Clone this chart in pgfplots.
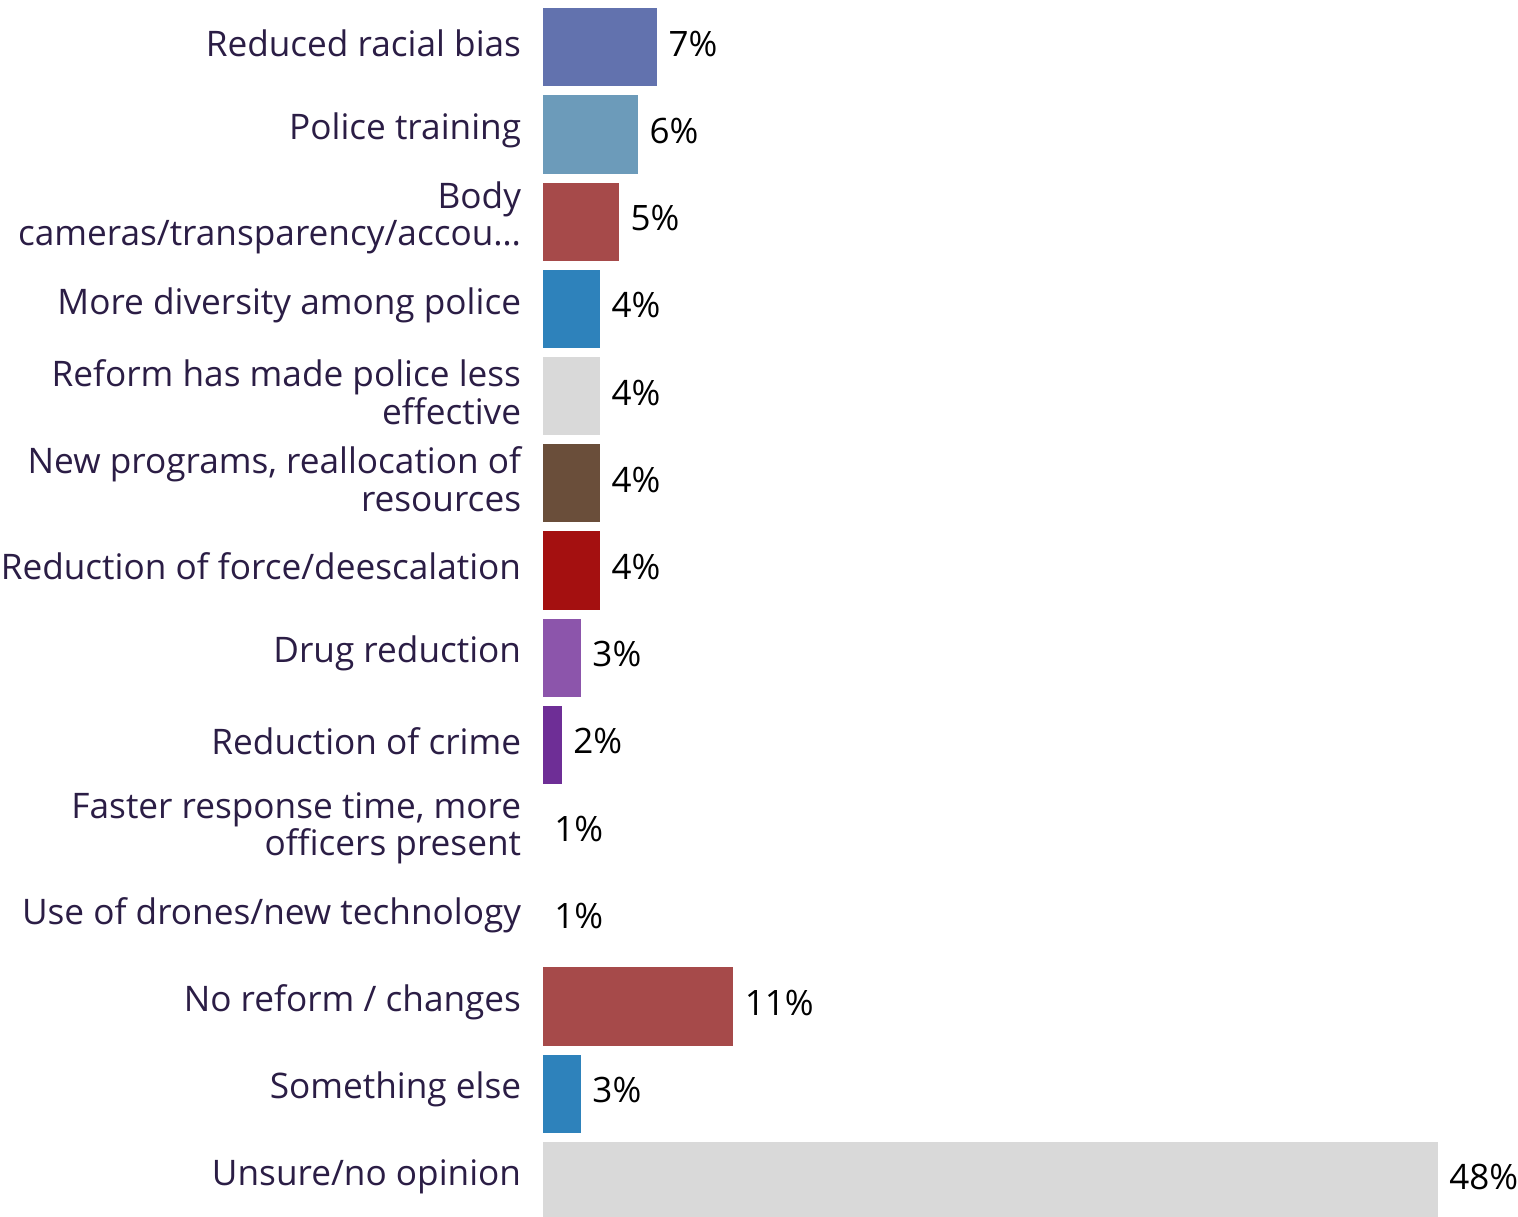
\documentclass[border=0pt]{standalone}
\usepackage{pgfplots}
\pgfplotsset{compat=1.18}
\usepackage{fontspec}
\setmainfont{Open Sans}
\definecolor{lab}{HTML}{2B1D45}
\definecolor{c1}{HTML}{6272AE}
\definecolor{c2}{HTML}{6C9BBA}
\definecolor{c3}{HTML}{A64A4A}
\definecolor{c4}{HTML}{2E82BB}
\definecolor{c5}{HTML}{D9D9D9}
\definecolor{c6}{HTML}{6A4E3A}
\definecolor{c7}{HTML}{A41010}
\definecolor{c8}{HTML}{8C55AB}
\definecolor{c9}{HTML}{6E2E96}
\begin{document}
\begin{tikzpicture}
\begin{axis}[
  scale only axis, width=487.5pt, height=608.5pt,
  xbar, bar width=0.898, bar shift=0pt,
  xmin=1, xmax=52.2, ymin=-0.5425, ymax=13.413, y dir=reverse,
  axis line style={draw=none}, tick style={draw=none},
  xtick=\empty, ytick={0,...,13},
  yticklabels={{Reduced racial bias},{Police training},{Body\\cameras/transparency/accou…},{More diversity among police},{Reform has made police less\\effective},{New programs, reallocation of\\resources},{Reduction of force/deescalation},{Drug reduction},{Reduction of crime},{Faster response time, more\\officers present},{Use of drones/new technology},{No reform / changes},{Something else},{Unsure/no opinion}},
  yticklabel style={align=right, anchor=east, inner sep=0pt, xshift=-6.5pt, yshift=2pt, text=lab, font=\fontsize{17.6}{18.75}\selectfont},
  clip mode=individual,
  point meta=x,
  nodes near coords={\pgfmathprintnumber[fixed,precision=0,assume math mode=true]{\pgfplotspointmeta}\%},
  nodes near coords style={anchor=west, inner sep=0pt, xshift=5.5pt, yshift=1.8pt, text=black, font=\fontsize{17.5}{18.75}\selectfont},
  every axis plot/.append style={draw=none},
]
\addplot[fill=c1] coordinates {(7,0)};
\addplot[fill=c2] coordinates {(6,1)};
\addplot[fill=c3] coordinates {(5,2)};
\addplot[fill=c4] coordinates {(4,3)};
\addplot[fill=c5] coordinates {(4,4)};
\addplot[fill=c6] coordinates {(4,5)};
\addplot[fill=c7] coordinates {(4,6)};
\addplot[fill=c8] coordinates {(3,7)};
\addplot[fill=c9] coordinates {(2,8)};
\addplot[fill=white] coordinates {(1,9)};
\addplot[fill=white] coordinates {(1,10)};
\addplot[fill=c3] coordinates {(11,11)};
\addplot[fill=c4] coordinates {(3,12)};
\addplot[fill=c5] coordinates {(48,13)};
\end{axis}
\pgfresetboundingbox
\path[use as bounding box] ([xshift=-271.5pt]current axis.south west) rectangle (current axis.north east);
\end{tikzpicture}
\end{document}
